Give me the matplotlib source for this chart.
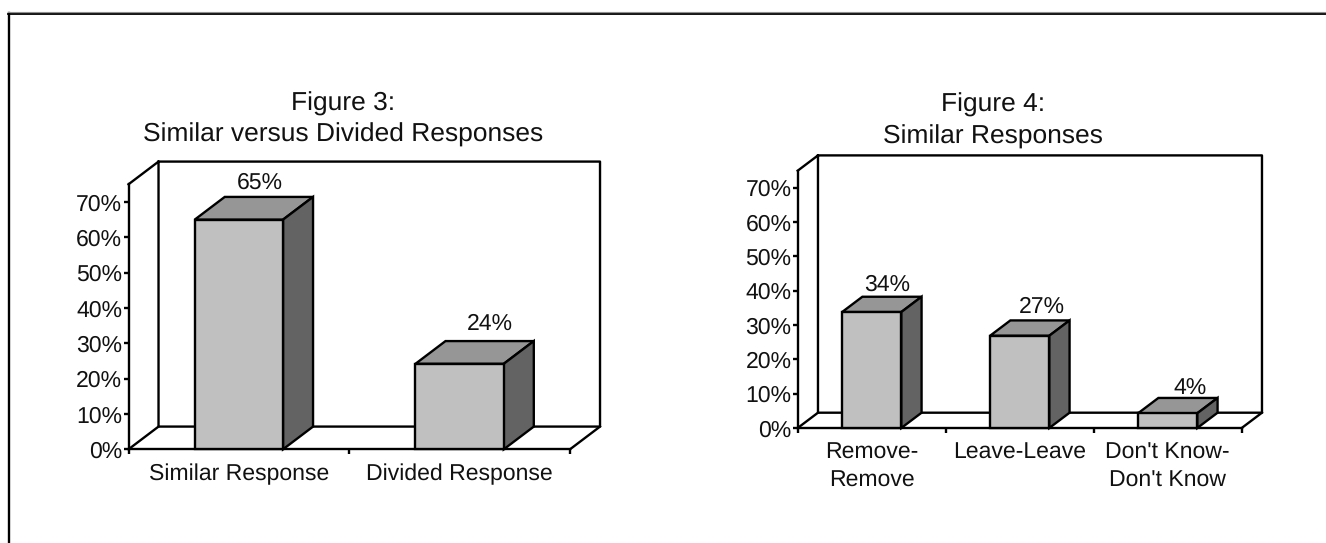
import matplotlib
matplotlib.use("Agg")
import matplotlib.pyplot as plt
from matplotlib.lines import Line2D

plt.rcParams["font.family"] = ["Liberation Sans", "DejaVu Sans"]
plt.rcParams["text.hinting"] = "no_hinting"

W, H = 1326, 543

# figure 3
cats_3 = ["Similar Response", "Divided Response"]
vals_3 = [65, 24.2]
labels_3 = ["65%", "24%"]
title_3 = "Figure 3:\nSimilar versus Divided Responses"

# figure 4
cats_4 = ["Remove-\nRemove", "Leave-Leave", "Don't Know-\nDon't Know"]
vals_4 = [33.8, 26.9, 4.3]
labels_4 = ["34%", "27%", "4%"]
title_4 = "Figure 4:\nSimilar Responses"

yticks = [0, 10, 20, 30, 40, 50, 60, 70]
ytick_labels = ["0%", "10%", "20%", "30%", "40%", "50%", "60%", "70%"]

FRONT = "#c0c0c0"
TOP = "#969696"
SIDE = "#636363"
LW = 1.7
FS = 16.6
TXT = "#111111"


def chart(box, cats, vals, labels, dx, dy, label_off):
    # box is left, right, y of 0 and y of the axis top, all in pixels from the top left
    left, right, y0, ytop = box
    ax = fig.add_axes([left / W, 1 - y0 / H, (right - left) / W, (y0 - ytop) / H])
    n = len(cats)
    ax.set_xlim(0, n)
    ax.set_ylim(0, 75)
    for s in ["top", "right"]:
        ax.spines[s].set_visible(False)
    for s in ["left", "bottom"]:
        ax.spines[s].set_linewidth(LW)

    # walls and floor
    kw = dict(color="black", lw=LW, clip_on=False, solid_capstyle="projecting", zorder=1)
    ax.plot([0, dx, dx, n + dx, n + dx, dx], [75, 75 + dy, dy, dy, 75 + dy, 75 + dy], **kw)
    ax.plot([0, dx], [0, dy], **kw)
    ax.plot([n, n + dx], [0, dy], **kw)

    # 3d bars, gap width 150%
    width = 0.4
    edge = dict(edgecolor="black", linewidth=LW, clip_on=False, joinstyle="miter", zorder=3)
    for i, v in enumerate(vals):
        x0 = i + 0.5 - width / 2
        x1 = x0 + width
        ax.fill([x0, x0 + dx, x1 + dx, x1], [v, v + dy, v + dy, v], facecolor=TOP, **edge)
        ax.fill([x1, x1 + dx, x1 + dx, x1], [0, dy, v + dy, v], facecolor=SIDE, **edge)
        ax.bar(i + 0.5, v, width, color=FRONT, **edge)
        # label offsets in pixels from the front centre / back top edge
        ax.annotate(labels[i], (i + 0.5, v + dy), xytext=(label_off[i][0] * 0.72, label_off[i][1] * 0.72),
                    textcoords="offset points", ha="center", va="baseline", fontsize=FS, color=TXT, zorder=4)

    ax.set_yticks(yticks, ytick_labels, fontsize=FS)
    ax.set_xticks(range(n + 1), [""] * (n + 1))
    ax.set_xticks([i + 0.5 for i in range(n)], cats, minor=True, fontsize=FS, linespacing=1.39)
    ax.tick_params(axis="both", which="major", length=3.5, width=LW, pad=1, color="black", labelcolor=TXT)
    ax.tick_params(axis="x", which="minor", length=0, pad=10.5, labelcolor=TXT)
    return ax


fig = plt.figure(figsize=(W / 100, H / 100), dpi=100)

chart((128.5, 570, 449.3, 184.3), cats_3, vals_3, labels_3, 0.136, 6.43, [(20.5, 8), (30, 11)])
chart((797.7, 1241.7, 428, 170.7), cats_4, vals_4, labels_4, 0.137, 4.46, [(15, 6), (21.7, 8), (22, 3.5)])

fig.text(343 / W, 1 - 141.7 / H, title_3, ha="center", va="baseline", fontsize=19, color=TXT, linespacing=1.37)
fig.text(992.7 / W, 1 - 143.3 / H, title_4, ha="center", va="baseline", fontsize=19, color=TXT, linespacing=1.37)

# outer frame, cut off on the right and at the bottom
fig.add_artist(Line2D([9 / W, 9 / W], [0, 1 - 13 / H], color="black", lw=LW))
fig.add_artist(Line2D([8 / W, 1], [1 - 13.8 / H, 1 - 13.8 / H], color="black", lw=1.3))
fig.add_artist(Line2D([8 / W, 1], [1 - 12.4 / H, 1 - 12.4 / H], color="#909090", lw=0.8))

fig.savefig("out.png", dpi=100)
